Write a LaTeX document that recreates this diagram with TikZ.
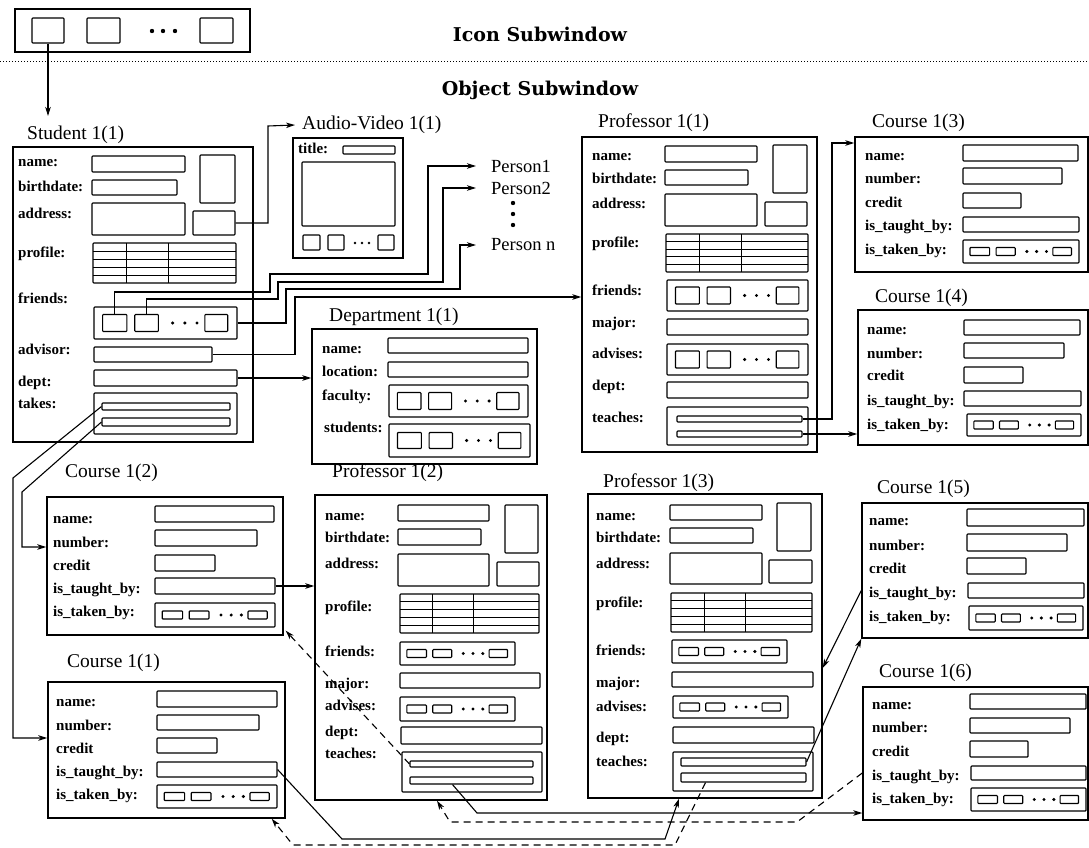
\documentclass[tikz,border=0pt]{standalone}
\usepackage{fontspec}
\setmainfont{Liberation Serif}
\newfontfamily\headfont{DejaVu Serif}
\usetikzlibrary{arrows.meta,calc}
\tikzset{
 fieldbox/.style={draw,line width=1.1pt,inner sep=0pt,rounded corners=0.8pt},
 objbox/.style={line width=1.4pt,sharp corners},
 lab/.style={font=\bfseries\fontsize{15}{15}\selectfont,inner sep=0pt,anchor=west,text height=10pt,text depth=3pt},
 ttl/.style={font=\fontsize{19.5}{20}\selectfont,inner sep=2pt,anchor=west},
 per/.style={font=\fontsize{18.5}{19}\selectfont,inner sep=0pt,anchor=west},
 head/.style={font=\headfont\bfseries\fontsize{19}{20}\selectfont,inner sep=0pt},
 conn/.style={line width=1.1pt,-{Stealth[length=9pt,width=5.5pt,inset=2.5pt]}},
 dconn/.style={conn,dash pattern=on 7pt off 5pt},
 sep/.style={line width=0.8pt,dash pattern=on 0.8pt off 2.2pt},
}
\newcommand\bx[6][]{%
 \pgfmathsetmacro\bw{(#5)-(#3)}%
 \pgfmathsetmacro\bh{(#6)-(#4)}%
 \pgfmathsetmacro\bcx{((#3)+(#5))/2}%
 \pgfmathsetmacro\bcy{((#4)+(#6))/2}%
 \node[fieldbox,minimum width=\bw pt,minimum height=\bh pt,#1] (#2) at (\bcx,\bcy) {};%
}
\newcommand\grp[6][17]{%
 \bx{#2}{#3}{#4}{#5}{#6}%
 \pgfmathsetmacro\gw{(#5)-(#3)}%
 \pgfmathsetmacro\gm{((#4)+(#6))/2}%
 \pgfmathsetmacro\gt{\gm-(#1)/2}%
 \pgfmathsetmacro\gu{\gm+(#1)/2}%
 \bx{#2a}{#3+0.06*\gw}{\gt}{#3+0.23*\gw}{\gu}%
 \bx{#2b}{#3+0.285*\gw}{\gt}{#3+0.45*\gw}{\gu}%
 \bx{#2c}{#3+0.775*\gw}{\gt}{#3+0.935*\gw}{\gu}%
 \foreach \f in {0.55,0.635,0.72}{\fill ({#3+\f*\gw},\gm) circle (1.7pt);}%
}
\newcommand\prof[5]{%
 \bx{#1}{#2}{#3}{#4}{#5}%
 \pgfmathsetmacro\pw{(#4)-(#2)}\pgfmathsetmacro\ph{(#5)-(#3)}%
 \foreach \f in {0.2,0.4,0.6,0.8}{\draw[line width=0.9pt] (#2,{#3+\f*\ph}) -- (#4,{#3+\f*\ph});}%
 \foreach \f in {0.235,0.53}{\draw[line width=1.1pt] ({#2+\f*\pw},#3) -- ({#2+\f*\pw},#5);}%
}
\newcommand\lb[3]{\node[lab] (lb#1x#2) at (#1,#2) {#3};}
\begin{document}
\begin{tikzpicture}[x=1pt,y=-1pt]
\useasboundingbox (0,0) rectangle (1089,848);
% ---------- icon subwindow
\bx[objbox]{icon}{15}{9}{250}{52}
\bx{ic1}{32}{18}{64}{43}
\bx{ic2}{87}{18}{120}{43}
\bx{ic3}{200}{18}{233}{43}
\foreach \x in {152,163,175}{\fill (\x,31) circle (2.2pt);}
\coordinate (iconend) at (48,116);
\draw[conn] (ic1.south) -- (iconend);
\node[head] (hicon) at (540,34) {Icon Subwindow};
\coordinate (sepL) at (0,61); \coordinate (sepR) at (1089,61);
\draw[sep] (sepL) -- (sepR);
\node[head] (hobj) at (540,90) {Object Subwindow};
% ---------- Student 1(1)
\node[ttl] (st) at (25,135) {Student 1(1)};
\bx[objbox]{s}{13}{147}{253}{442}
\lb{18}{163}{name:} \bx{sname}{92}{156}{185}{172}
\bx{sphoto}{200}{155}{235}{203}
\lb{18}{188}{birthdate:} \bx{sbirth}{92}{180}{177}{195}
\lb{18}{215}{address:} \bx{saddr}{92}{203}{185}{235}
\bx{saudio}{193}{211}{235}{235}
\lb{18}{254}{profile:} \prof{sprof}{93}{243}{236}{283}
\lb{18}{300}{friends:} \grp{sfr}{94}{307}{237}{339}
\lb{18}{351}{advisor:} \bx{sadv}{94}{347}{212}{362}
\lb{18}{383}{dept:} \bx{sdept}{94}{370}{237}{386}
\lb{18}{405}{takes:} \bx{stk}{94}{393}{237}{434}
\bx{stka}{102}{403}{230}{410}
\bx{stkb}{102}{418}{230}{426}
% ---------- Audio-Video 1(1)
\node[ttl] (avt) at (300,125) {Audio-Video 1(1)};
\bx[objbox]{av}{293}{138}{403}{258}
\lb{298}{150}{title:} \bx{avtitle}{343}{146}{395}{154}
\bx{avscr}{302}{162}{395}{226}
\bx{av1}{303}{235}{320}{250}
\bx{av2}{328}{235}{344}{250}
\foreach \x in {355,362,369}{\fill (\x,243) circle (1.4pt);}
\bx{av3}{378}{235}{394}{250}
% ---------- Persons
\node[per] (per1) at (491,166) {Person1};
\node[per] (per2) at (491,188) {Person2};
\foreach \y in {203,214,225}{\fill (513,\y) circle (2.2pt);}
\node[per] (pern) at (491,245) {Person n};
% ---------- Department 1(1)
\node[ttl] (dt) at (327,317) {Department 1(1)};
\bx[objbox]{d}{312}{329}{537}{464}
\lb{322}{350}{name:} \bx{dname}{388}{338}{528}{353}
\lb{322}{373}{location:} \bx{dloc}{388}{362}{528}{377}
\lb{322}{397}{faculty:} \grp{dfac}{389}{385}{528}{417}
\lb{324}{429}{students:} \grp[16]{dstu}{389}{424}{530}{457}
% ---------- Professor 1(1)
\node[ttl] (p1t) at (596,123) {Professor 1(1)};
\bx[objbox]{p1}{582}{137}{817}{452}
\lb{592}{157}{name:} \bx{p1name}{665}{146}{757}{162}
\bx{p1photo}{773}{145}{807}{193}
\lb{592}{180}{birthdate:} \bx{p1birth}{665}{170}{748}{185}
\lb{592}{205}{address:} \bx{p1addr}{665}{194}{757}{226}
\bx{p1small}{765}{202}{807}{226}
\lb{592}{244}{profile:} \prof{p1prof}{666}{234}{808}{272}
\lb{592}{292}{friends:} \grp{p1fr}{667}{280}{808}{311}
\lb{592}{324}{major:} \bx{p1maj}{667}{319}{808}{335}
\lb{592}{355}{advises:} \grp{p1adv}{667}{344}{808}{375}
\lb{592}{387}{dept:} \bx{p1dept}{667}{382}{808}{398}
\lb{592}{419}{teaches:} \bx{p1tk}{667}{407}{808}{445}
\bx{p1tka}{677}{416}{802}{422}
\bx{p1tkb}{677}{431}{802}{437}
% ---------- Course 1(3)
\node[ttl] (c13t) at (870,123) {Course 1(3)};
\bx[objbox]{c13}{855}{137}{1088}{272}
\lb{865}{157}{name:} \bx{c13name}{963}{145}{1078}{161}
\lb{865}{180}{number:} \bx{c13num}{963}{168}{1062}{184}
\lb{865}{204}{credit} \bx{c13cr}{963}{193}{1021}{208}
\lb{865}{227}{is\_taught\_by:} \bx{c13tb}{963}{217}{1079}{232}
\lb{865}{251}{is\_taken\_by:} \grp[8]{c13tk}{963}{240}{1079}{263}
% ---------- Course 1(4)
\node[ttl] (c14t) at (873,298) {Course 1(4)};
\bx[objbox]{c14}{858}{310}{1088}{445}
\lb{867}{331}{name:} \bx{c14name}{964}{320}{1080}{335}
\lb{867}{355}{number:} \bx{c14num}{964}{343}{1064}{358}
\lb{867}{377}{credit} \bx{c14cr}{964}{367}{1023}{383}
\lb{867}{402}{is\_taught\_by:} \bx{c14tb}{964}{391}{1081}{406}
\lb{867}{426}{is\_taken\_by:} \grp[8]{c14tk}{967}{414}{1081}{436}
% ---------- Course 1(2)
\node[ttl] (c12t) at (63,473) {Course 1(2)};
\bx[objbox]{c12}{47}{497}{283}{635}
\lb{53}{520}{name:} \bx{c12name}{155}{506}{274}{522}
\lb{53}{544}{number:} \bx{c12num}{155}{530}{257}{546}
\lb{53}{567}{credit} \bx{c12cr}{155}{555}{215}{571}
\lb{53}{590}{is\_taught\_by:} \bx{c12tb}{155}{578}{275}{594}
\lb{53}{613}{is\_taken\_by:} \grp[8]{c12tk}{155}{603}{275}{627}
% ---------- Course 1(1)
\node[ttl] (c11t) at (65,663) {Course 1(1)};
\bx[objbox]{c11}{48}{682}{285}{818}
\lb{56}{703}{name:} \bx{c11name}{157}{691}{277}{707}
\lb{56}{727}{number:} \bx{c11num}{157}{715}{259}{730}
\lb{56}{750}{credit} \bx{c11cr}{157}{738}{217}{753}
\lb{56}{773}{is\_taught\_by:} \bx{c11tb}{157}{762}{277}{777}
\lb{56}{796}{is\_taken\_by:} \grp[8]{c11tk}{157}{785}{277}{808}
% ---------- Professor 1(2)
\node[ttl] (p2t) at (330,473) {Professor 1(2)};
\bx[objbox]{p2}{315}{495}{547}{800}
\lb{325}{517}{name:} \bx{p2name}{398}{505}{489}{521}
\bx{p2photo}{505}{505}{538}{553}
\lb{325}{539}{birthdate:} \bx{p2birth}{398}{529}{481}{545}
\lb{325}{565}{address:} \bx{p2addr}{398}{554}{489}{586}
\bx{p2small}{497}{562}{539}{586}
\lb{325}{608}{profile:} \prof{p2prof}{400}{594}{539}{633}
\lb{325}{653}{friends:} \grp[8]{p2fr}{400}{642}{515}{665}
\lb{325}{685}{major:} \bx{p2maj}{400}{673}{540}{688}
\lb{325}{707}{advises:} \grp[8]{p2adv}{400}{697}{515}{721}
\lb{325}{733}{dept:} \bx{p2dept}{401}{727}{542}{744}
\lb{325}{755}{teaches:} \bx{p2tk}{402}{752}{542}{792}
\bx{p2tka}{410}{761}{533}{767}
\bx{p2tkb}{410}{777}{533}{784}
% ---------- Professor 1(3)
\node[ttl] (p3t) at (601,483) {Professor 1(3)};
\bx[objbox]{p3}{588}{494}{822}{798}
\lb{596}{517}{name:} \bx{p3name}{670}{505}{762}{520}
\bx{p3photo}{777}{503}{811}{551}
\lb{596}{539}{birthdate:} \bx{p3birth}{670}{528}{753}{543}
\lb{596}{565}{address:} \bx{p3addr}{670}{553}{762}{584}
\bx{p3small}{769}{560}{812}{583}
\lb{596}{604}{profile:} \prof{p3prof}{671}{593}{812}{632}
\lb{596}{652}{friends:} \grp[8]{p3fr}{672}{640}{787}{663}
\lb{596}{684}{major:} \bx{p3maj}{672}{672}{813}{687}
\lb{596}{708}{advises:} \grp[8]{p3adv}{673}{696}{788}{718}
\lb{596}{739}{dept:} \bx{p3dept}{673}{727}{814}{743}
\lb{596}{763}{teaches:} \bx{p3tk}{673}{752}{813}{791}
\bx{p3tka}{681}{758}{806}{766}
\bx{p3tkb}{681}{773}{806}{782}
% ---------- Course 1(5)
\node[ttl] (c15t) at (875,489) {Course 1(5)};
\bx[objbox]{c15}{862}{503}{1088}{638}
\lb{869}{522}{name:} \bx{c15name}{967}{509}{1084}{526}
\lb{869}{547}{number:} \bx{c15num}{967}{534}{1067}{551}
\lb{869}{570}{credit} \bx{c15cr}{967}{558}{1026}{574}
\lb{869}{594}{is\_taught\_by:} \bx{c15tb}{968}{583}{1084}{598}
\lb{869}{618}{is\_taken\_by:} \grp[8]{c15tk}{969}{606}{1083}{630}
% ---------- Course 1(6)
\node[ttl] (c16t) at (877,673) {Course 1(6)};
\bx[objbox]{c16}{863}{687}{1088}{820}
\lb{872}{706}{name:} \bx{c16name}{970}{694}{1086}{709}
\lb{872}{729}{number:} \bx{c16num}{970}{718}{1070}{733}
\lb{872}{753}{credit} \bx{c16cr}{970}{741}{1028}{757}
\lb{872}{777}{is\_taught\_by:} \bx{c16tb}{971}{766}{1086}{780}
\lb{872}{800}{is\_taken\_by:} \grp[8]{c16tk}{971}{788}{1086}{811}
% ---------- connectors (top)
\draw[conn] (saudio.east) -| (268,126) -- ([xshift=-5pt]avt.west);
\draw[conn] (sfra.north) |- (270,292) |- (428,274) |- ([xshift=-15pt]per1.west);
\draw[conn] (sfrb.north) |- (278,299) |- (443,282) |- ([xshift=-15pt]per2.west);
\draw[conn] (sfr.east) -| (286,289) -- (460,289) |- ([xshift=-15pt]pern.west);
\draw[conn] (sadv.east) -| (295,297) -- (p1.west |- 0,297);
\draw[conn] (sdept.east) -- (d.west |- sdept.east);
\draw[conn] (p1tka.east) -| (832,143) -- (c13.west |- 0,143);
\draw[conn] (p1tkb.east) -- (c14.west |- p1tkb.east);
% ---------- connectors (bottom)
\draw[conn] (stka.west) -- (13,478) |- (c11.west |- 0,738);
\draw[conn] (stkb.west) -- (22,492) |- (c12.west |- 0,547);
\draw[conn] (c12tb.east) -- (p2.west |- c12tb.east);
\draw[dconn] (p2tka.west) -- ([shift={(2pt,5pt)}]c12.south east);
\draw[conn] (c15.west |- c15tb.center) -- (p3.east |- 0,668);
\draw[conn] (p3tka.east) -- (c15.south west);
\draw[conn] ([xshift=-19pt]p2tkb.south) -- (477,813) -- (c16.west |- 0,813);
\draw[conn] (c11tb.east) -- (342,839) -- (665,839) -- ([xshift=-26pt]p3.south);
\draw[dconn] ([xshift=-38pt]p3tkb.south) -- (675,845) -- (293,845) -- ([xshift=-14pt]c11.south east);
\draw[dconn] (c16.west |- c16tb.center) -- (797,822) -- (450,822) -- ([xshift=6pt]p2.south);
\end{tikzpicture}
\end{document}
